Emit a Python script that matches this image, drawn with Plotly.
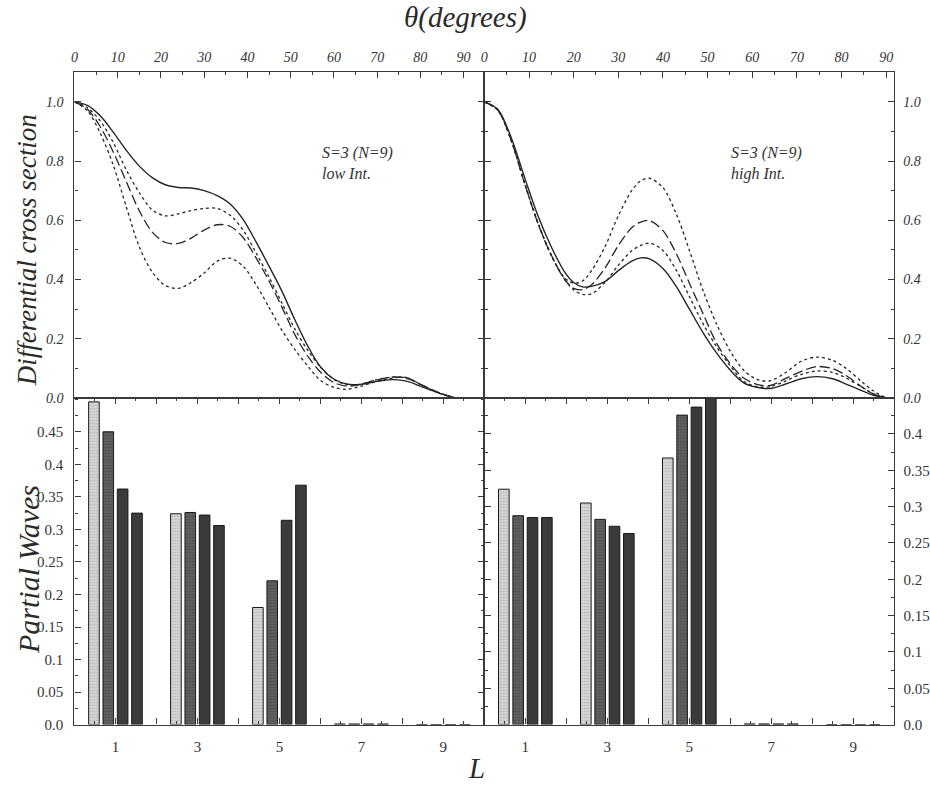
import plotly.graph_objects as go

# ---------------- data ----------------
# scattering angle grids (degrees) for the two intensity regimes
theta_low = [0, 3, 6, 9, 12, 15, 18, 21, 24, 27, 30, 33, 36, 39, 42, 45, 48, 51,
             54, 57, 60, 63, 66, 70, 74, 77, 80, 84, 88]
theta_high = [0, 3, 6, 9, 12, 15, 18, 20, 22, 24, 27, 30, 33, 35, 37, 40, 43, 46,
              49, 52, 55, 58, 61, 64, 67.5, 71, 74.5, 78, 81, 84.5, 87, 90]

# differential cross sections, low intensity
low_solid = [1.0, 0.988, 0.952, 0.897, 0.836, 0.783, 0.744, 0.72, 0.711, 0.709, 0.70,
             0.683, 0.655, 0.603, 0.527, 0.445, 0.36, 0.263, 0.174, 0.103, 0.064,
             0.047, 0.046, 0.056, 0.062, 0.056, 0.04, 0.018, 0.0]
low_dot_a = [1.0, 0.98, 0.935, 0.862, 0.77, 0.693, 0.635, 0.615, 0.622, 0.633, 0.64,
             0.64, 0.617, 0.567, 0.49, 0.408, 0.32, 0.232, 0.16, 0.103, 0.062,
             0.045, 0.046, 0.062, 0.071, 0.068, 0.046, 0.019, 0.0]
low_dash = [1.0, 0.975, 0.915, 0.83, 0.73, 0.632, 0.56, 0.525, 0.522, 0.54, 0.567,
            0.585, 0.58, 0.542, 0.473, 0.395, 0.306, 0.213, 0.14, 0.086, 0.052,
            0.04, 0.045, 0.061, 0.071, 0.065, 0.046, 0.02, 0.0]
low_dot_b = [1.0, 0.97, 0.893, 0.785, 0.645, 0.51, 0.425, 0.38, 0.37, 0.39, 0.422,
             0.462, 0.472, 0.445, 0.383, 0.306, 0.228, 0.163, 0.107, 0.058, 0.036,
             0.029, 0.039, 0.056, 0.068, 0.068, 0.046, 0.018, 0.0]

# differential cross sections, high intensity
high_solid = [1.0, 0.975, 0.88, 0.745, 0.615, 0.51, 0.425, 0.39, 0.375, 0.377, 0.393,
              0.43, 0.462, 0.473, 0.47, 0.437, 0.376, 0.298, 0.22, 0.152, 0.095,
              0.052, 0.036, 0.032, 0.047, 0.065, 0.072, 0.065, 0.047, 0.025, 0.01, 0.0]
high_dot_a = [1.0, 0.972, 0.87, 0.725, 0.59, 0.48, 0.405, 0.388, 0.395, 0.43, 0.51,
              0.615, 0.7, 0.733, 0.742, 0.71, 0.621, 0.495, 0.362, 0.25, 0.16,
              0.095, 0.063, 0.058, 0.086, 0.124, 0.138, 0.127, 0.1, 0.055, 0.025, 0.0]
high_dash = [1.0, 0.972, 0.87, 0.725, 0.59, 0.482, 0.4, 0.37, 0.366, 0.382, 0.438,
             0.515, 0.575, 0.594, 0.599, 0.565, 0.487, 0.385, 0.284, 0.185, 0.117,
             0.068, 0.046, 0.042, 0.066, 0.09, 0.106, 0.099, 0.076, 0.038, 0.015, 0.0]
high_dot_b = [1.0, 0.972, 0.87, 0.727, 0.592, 0.483, 0.4, 0.365, 0.35, 0.352, 0.39,
              0.448, 0.497, 0.515, 0.523, 0.498, 0.431, 0.34, 0.25, 0.173, 0.11,
              0.057, 0.038, 0.038, 0.058, 0.08, 0.091, 0.086, 0.067, 0.037, 0.015, 0.0]

# partial-wave weights per angular momentum L
L_values = [1, 3, 5, 7, 9]
low_pw = [
    [0.496, 0.324, 0.180, 0.001, 0.0],
    [0.450, 0.326, 0.221, 0.001, 0.0],
    [0.362, 0.322, 0.314, 0.001, 0.0],
    [0.325, 0.306, 0.368, 0.001, 0.0],
]
high_pw = [
    [0.324, 0.305, 0.367, 0.001, 0.0],
    [0.2875, 0.2825, 0.426, 0.001, 0.0],
    [0.285, 0.273, 0.437, 0.001, 0.0],
    [0.285, 0.263, 0.450, 0.001, 0.0],
]

theta_ticks = [0, 10, 20, 30, 40, 50, 60, 70, 80, 90]
dcs_ticks = [0.0, 0.2, 0.4, 0.6, 0.8, 1.0]
pw_ticks_low = [0.0, 0.05, 0.1, 0.15, 0.2, 0.25, 0.3, 0.35, 0.4, 0.45]
pw_ticks_high = [0.0, 0.05, 0.1, 0.15, 0.2, 0.25, 0.3, 0.35, 0.4]
L_ticks = [1, 2, 3, 4, 5, 6, 7, 8, 9]

# ---------------- styling ----------------
SERIF = "Liberation Serif"
INK = "#262626"
AXIS = "#3a3a3a"
LABEL = "#333333"

curve_styles = [
    dict(dash="solid", width=1.4),
    dict(dash="dot", width=1.3),
    dict(dash="10px,4px", width=1.3),
    dict(dash="dot", width=1.3),
]

bar_styles = [
    dict(color="#cfcfcf", pattern=dict(shape=".", fgcolor="#8a8a8a", bgcolor="#d6d6d6", size=3, solidity=0.25)),
    dict(color="#575757", pattern=dict(shape=".", fgcolor="#2e2e2e", bgcolor="#626262", size=3, solidity=0.3)),
    dict(color="#3b3b3b"),
    dict(color="#3b3b3b"),
]

fig = go.Figure()

# cross-section curves
for theta, series, xa, ya in [
    (theta_low, [low_solid, low_dot_a, low_dash, low_dot_b], "x", "y"),
    (theta_high, [high_solid, high_dot_a, high_dash, high_dot_b], "x2", "y2"),
]:
    for vals, st in zip(series, curve_styles):
        fig.add_trace(go.Scatter(
            x=theta, y=vals, mode="lines", xaxis=xa, yaxis=ya,
            line=dict(color=INK, width=st["width"], dash=st["dash"],
                      shape="spline", smoothing=0.9),
            showlegend=False, hoverinfo="skip"))

# partial-wave bars
for groups, xa, ya in [(low_pw, "x3", "y3"), (high_pw, "x4", "y4")]:
    for vals, st in zip(groups, bar_styles):
        marker = dict(color=st["color"], line=dict(color="#1a1a1a", width=1))
        if "pattern" in st:
            marker["pattern"] = st["pattern"]
        fig.add_trace(go.Bar(x=L_values, y=vals, xaxis=xa, yaxis=ya,
                             marker=marker, showlegend=False, hoverinfo="skip"))

# ---------------- layout ----------------
XL = [71 / 930, 484 / 930]
XR = [484 / 930, 897 / 930]
YT = [1 - 402 / 793, 1 - 73 / 793]
YB = [1 - 732 / 793, 1 - 402 / 793]

ital = dict(family=SERIF, size=14, color=LABEL, style="italic")
upright = dict(family=SERIF, size=15, color=LABEL)

common = dict(showline=True, linecolor=AXIS, linewidth=1.4, showgrid=False,
              zeroline=False, ticks="inside", tickcolor=AXIS, ticklen=6,
              tickwidth=1)


def fmt(v):
    return "0.0" if v == 0 else ("%g" % v)


fig.update_layout(
    width=930, height=793,
    margin=dict(l=0, r=0, t=0, b=0),
    paper_bgcolor="white", plot_bgcolor="white",
    barmode="group", bargap=0.3, bargroupgap=0.26,
    xaxis=dict(domain=XL, anchor="y", side="top", range=[0, 94.8],
               tickmode="array", tickvals=theta_ticks,
               ticktext=[str(t) for t in theta_ticks], tickfont=ital,
               mirror=True, ticklabelstandoff=3,
               minor=dict(dtick=5, tick0=0, ticks="inside", ticklen=3, tickcolor=AXIS),
               **common),
    yaxis=dict(domain=YT, anchor="x", range=[0, 1.1],
               tickmode="array", tickvals=dcs_ticks,
               ticktext=["%.1f" % t for t in dcs_ticks], tickfont=ital,
               mirror="allticks", ticklabelstandoff=7,
               minor=dict(dtick=0.1, tick0=0, ticks="inside", ticklen=3, tickcolor=AXIS),
               **common),
    xaxis2=dict(domain=XR, anchor="y2", side="top", range=[0, 91.8],
                tickmode="array", tickvals=theta_ticks,
                ticktext=[str(t) for t in theta_ticks], tickfont=ital,
                mirror=True, ticklabelstandoff=3,
                minor=dict(dtick=5, tick0=0, ticks="inside", ticklen=3, tickcolor=AXIS),
                **common),
    yaxis2=dict(domain=YT, anchor="x2", side="right", range=[0, 1.1],
                tickmode="array", tickvals=dcs_ticks,
                ticktext=["%.1f" % t for t in dcs_ticks], tickfont=ital,
                mirror="allticks", ticklabelstandoff=5,
                minor=dict(dtick=0.1, tick0=0, ticks="inside", ticklen=3, tickcolor=AXIS),
                **common),
    xaxis3=dict(domain=XL, anchor="y3", range=[0, 10],
                tickmode="array", tickvals=L_ticks,
                ticktext=[str(t) if t % 2 else "" for t in L_ticks], tickfont=upright,
                mirror="allticks", ticklabelstandoff=8,
                minor=dict(dtick=0.5, tick0=0, ticks="inside", ticklen=3, tickcolor=AXIS),
                **common),
    yaxis3=dict(domain=YB, anchor="x3", range=[0, 0.502],
                tickmode="array", tickvals=pw_ticks_low,
                ticktext=[fmt(t) for t in pw_ticks_low], tickfont=upright,
                mirror="allticks", ticklabelstandoff=7,
                minor=dict(dtick=0.025, tick0=0, ticks="inside", ticklen=3, tickcolor=AXIS),
                **common),
    xaxis4=dict(domain=XR, anchor="y4", range=[0, 10],
                tickmode="array", tickvals=L_ticks,
                ticktext=[str(t) if t % 2 else "" for t in L_ticks], tickfont=upright,
                mirror="allticks", ticklabelstandoff=8,
                minor=dict(dtick=0.5, tick0=0, ticks="inside", ticklen=3, tickcolor=AXIS),
                **common),
    yaxis4=dict(domain=YB, anchor="x4", side="right", range=[0, 0.4496],
                tickmode="array", tickvals=pw_ticks_high,
                ticktext=[fmt(t) for t in pw_ticks_high], tickfont=upright,
                mirror="allticks", ticklabelstandoff=5,
                minor=dict(dtick=0.025, tick0=0, ticks="inside", ticklen=3, tickcolor=AXIS),
                **common),
)

# titles and panel labels
title_font = dict(family=SERIF, color="#2b2b2b", style="italic")
centred = dict(xref="paper", yref="paper", showarrow=False,
               xanchor="center", yanchor="middle")
fig.add_annotation(text="θ(degrees)", x=465 / 930, y=1 - 18 / 793,
                   font=dict(size=29, **title_font), **centred)
fig.add_annotation(text="Differential cross section", x=24 / 930, y=1 - 253 / 793,
                   textangle=-90, font=dict(size=27, **title_font), **centred)
fig.add_annotation(text="Partial Waves", x=24 / 930, y=1 - 575 / 793,
                   textangle=-90, font=dict(size=30, **title_font), **centred)
fig.add_annotation(text="L", x=476 / 930, y=1 - 776 / 793,
                   font=dict(size=29, **title_font), **centred)

panel_font = dict(family=SERIF, size=16, color="#333333", style="italic")
for xa, ya, x0, tag in [("x", "y", 56.9, "low Int."), ("x2", "y2", 54.7, "high Int.")]:
    fig.add_annotation(text="S=3 (N=9)<br>" + tag, xref=xa, yref=ya, x=x0, y=0.865,
                       xanchor="left", yanchor="top", align="left", showarrow=False,
                       font=panel_font)

fig.write_html("out.html")
